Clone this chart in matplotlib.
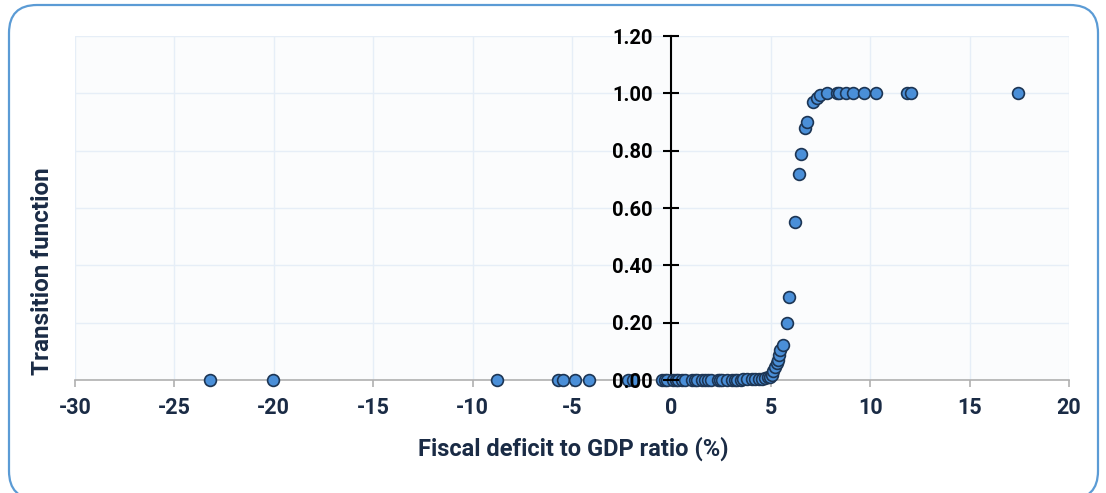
import matplotlib
matplotlib.use("Agg")
import matplotlib.pyplot as plt
from matplotlib.patches import FancyBboxPatch

# ---- data ----
deficit_neg = [-23.2, -20.05, -8.75, -5.68, -5.45, -4.87, -4.17, -2.2, -1.95]
trans_neg = [0, 0, 0, 0, 0, 0, 0, 0, 0]

deficit_low = [-0.45, -0.3, -0.2, 0.1, 0.25, 0.35, 0.55, 0.7, 1.05, 1.2, 1.3, 1.55,
               1.7, 1.86, 2.0, 2.36, 2.45, 2.56, 2.8, 3.07, 3.2, 3.32, 3.5, 3.62,
               3.8, 4.07, 4.22, 4.4, 4.57, 4.72, 4.87]
trans_low = [0, 0, 0, 0, 0, 0, 0, 0, 0, 0, 0, 0,
             0, 0, 0, 0, 0, 0, 0, 0.001, 0.001, 0.001, 0.001, 0.002,
             0.002, 0.003, 0.003, 0.004, 0.005, 0.007, 0.009]

deficit_high = [4.97, 5.08, 5.13, 5.2, 5.3, 5.38, 5.43, 5.48, 5.63, 5.8, 5.93, 6.23,
                6.43, 6.53, 6.73, 6.83, 7.14, 7.34, 7.49, 7.84, 8.34, 8.44, 8.8,
                9.15, 9.7, 10.3, 11.86, 12.06, 17.44]
trans_high = [0.012, 0.018, 0.03, 0.045, 0.06, 0.07, 0.087, 0.105, 0.122, 0.2, 0.29, 0.55,
              0.72, 0.79, 0.88, 0.90, 0.97, 0.985, 0.995, 1.0, 1.0, 1.0, 1.0,
              1.0, 1.0, 1.0, 1.0, 1.0, 1.0]

x_ticks = [-30, -25, -20, -15, -10, -5, 0, 5, 10, 15, 20]
y_ticks = [0.0, 0.2, 0.4, 0.6, 0.8, 1.0, 1.2]

x_vals = deficit_neg + deficit_low + deficit_high
y_vals = trans_neg + trans_low + trans_high

plt.rcParams['font.family'] = ['Roboto', 'DejaVu Sans']

W, H = 1106, 493
fig = plt.figure(figsize=(W / 100, H / 100), dpi=100)
fig.patch.set_facecolor('white')

# rounded border
box = FancyBboxPatch((9, -6), 1089, 494, boxstyle="round,pad=0,rounding_size=28",
                     transform=None, facecolor='none', edgecolor='#5b9bd5',
                     linewidth=1.6, zorder=0)
fig.patches.append(box)

ax = fig.add_axes([75 / W, 1 - 380 / H, (1069 - 75) / W, (380 - 36) / H])
ax.set_facecolor('#fbfcfd')
ax.set_xlim(-30, 20)
ax.set_ylim(0, 1.2)

ax.xaxis.grid(True, color='#e6eef7', linewidth=1.0)
for yt in y_ticks:
    ax.axhline(yt, color='#e6eef7', linewidth=1.0, zorder=0.3)
ax.set_axisbelow(True)

for s in ['top', 'right']:
    ax.spines[s].set_visible(False)
ax.spines['left'].set_position(('data', 0))
ax.spines['left'].set_color('black')
ax.spines['left'].set_linewidth(1.5)
ax.spines['bottom'].set_color('#b0b0b0')
ax.spines['bottom'].set_linewidth(1.2)

ax.set_xticks(x_ticks)
ax.set_xticklabels([str(t) for t in x_ticks])
ax.set_yticks(y_ticks)
ax.set_yticklabels([f"{t:.2f}" for t in y_ticks])

ax.tick_params(axis='x', direction='out', length=5, width=1.2, color='#b0b0b0',
               pad=7, labelsize=15.5, labelcolor='#1a2b45')
ax.tick_params(axis='y', direction='inout', length=11, width=1.5, color='black',
               pad=8, labelsize=14.5, labelcolor='black')
for lab in ax.get_xticklabels() + ax.get_yticklabels():
    lab.set_fontweight('bold')
ax.yaxis.set_zorder(5)

ax.scatter(x_vals, y_vals, s=72, facecolor='#4a8fd8', edgecolor='#1c3554',
           linewidth=1.2, zorder=3, clip_on=False)

fig.text(43 / W, 1 - 271 / H, 'Transition function', rotation=90, ha='center',
         va='center', fontsize=17.5, fontweight='bold', color='#1a2b45')
fig.text(573 / W, 1 - 449 / H, 'Fiscal deficit to GDP ratio (%)', ha='center',
         va='center', fontsize=17, fontweight='bold', color='#1a2b45')

fig.savefig('out.png', dpi=100, facecolor='white')
